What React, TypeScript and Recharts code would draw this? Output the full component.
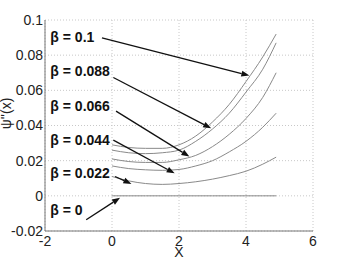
import React from "react";
import {
  LineChart,
  Line,
  XAxis,
  YAxis,
  CartesianGrid,
  ReferenceLine,
  ReferenceDot,
  Label,
} from "recharts";

// x positions along the curves
const xs = [0, 0.5, 1, 1.5, 2, 2.5, 3, 3.5, 4, 4.5, 4.9];

// psi''(x) for each beta
const beta0100 = [0.029, 0.0275, 0.027, 0.027, 0.029, 0.034, 0.042, 0.052, 0.065, 0.079, 0.092];
const beta0088 = [0.026, 0.0245, 0.024, 0.0245, 0.026, 0.031, 0.038, 0.047, 0.059, 0.072, 0.087];
const beta0066 = [0.021, 0.0195, 0.019, 0.019, 0.0205, 0.023, 0.028, 0.035, 0.044, 0.056, 0.07];
const beta0044 = [0.017, 0.0155, 0.0148, 0.0145, 0.015, 0.017, 0.02, 0.025, 0.031, 0.039, 0.047];
const beta0022 = [0.011, 0.0085, 0.007, 0.0065, 0.007, 0.008, 0.0095, 0.0115, 0.014, 0.018, 0.022];
const beta0000 = [0, 0, 0, 0, 0, 0, 0, 0, 0, 0, 0];

const xTicks = [-2, 0, 2, 4, 6];
const yTicks = [-0.02, 0, 0.02, 0.04, 0.06, 0.08, 0.1];

// annotations (data coordinates)
const betaLabels = ["β = 0.1", "β = 0.088", "β = 0.066", "β = 0.044", "β = 0.022", "β = 0"];
const labelX = [-1.84, -1.84, -1.84, -1.84, -1.84, -1.84];
const labelY = [0.0901, 0.0708, 0.051, 0.0317, 0.013, -0.0079];
const arrowFromX = [-0.3, 0.04, 0.12, 0.04, 0.09, -0.77];
const arrowFromY = [0.0899, 0.0673, 0.0482, 0.0317, 0.011, -0.0136];
const arrowToX = [4.1, 2.96, 2.31, 1.87, 0.58, 0.24];
const arrowToY = [0.0684, 0.0384, 0.0223, 0.0128, 0.0068, -0.0011];

const series = [beta0100, beta0088, beta0066, beta0044, beta0022, beta0000];
const keys = ["b0100", "b0088", "b0066", "b0044", "b0022", "b0000"];

const data = xs.map((x, i) => {
  const row: Record<string, number> = { x };
  keys.forEach((k, j) => (row[k] = series[j][i]));
  return row;
});

const FONT = "'Liberation Sans', Arial, sans-serif";

const Arrow = (p: any) => {
  const { x1, y1, x2, y2 } = p;
  const ang = Math.atan2(y2 - y1, x2 - x1);
  const len = 8;
  const w = 3;
  const bx = x2 - len * Math.cos(ang);
  const by = y2 - len * Math.sin(ang);
  const nx = -Math.sin(ang) * w;
  const ny = Math.cos(ang) * w;
  return (
    <g>
      <line x1={x1} y1={y1} x2={bx} y2={by} stroke="#111" strokeWidth={1.3} />
      <polygon points={`${x2},${y2} ${bx + nx},${by + ny} ${bx - nx},${by - ny}`} fill="#111" />
    </g>
  );
};

export default function App() {
  return (
    <div style={{ position: "absolute", left: 0, top: 0, width: 346, height: 260, background: "#fff" }}>
      <LineChart
        width={346}
        height={260}
        data={data}
        margin={{ top: 20, right: 33, bottom: 0, left: 0 }}
      >
        <CartesianGrid stroke="#c8c8c8" strokeDasharray="1 2" />
        <XAxis
          dataKey="x"
          type="number"
          domain={[-2, 6]}
          ticks={xTicks}
          height={29}
          tickLine={false}
          tickSize={0}
          tickMargin={5}
          stroke="#777"
          tick={{ fill: "#222", fontSize: 14, fontFamily: FONT }}
        >
          <Label
            value="X"
            position="insideBottom"
            offset={3}
            style={{ fill: "#222", fontSize: 14, fontFamily: FONT }}
          />
        </XAxis>
        <XAxis xAxisId="top" orientation="top" dataKey="x" type="number" domain={[-2, 6]} height={0} tick={false} tickLine={false} stroke="#999" />
        <YAxis
          type="number"
          domain={[-0.02, 0.1]}
          ticks={yTicks}
          width={45}
          tickLine={false}
          tickSize={0}
          tickMargin={2}
          stroke="#777"
          tick={{ fill: "#222", fontSize: 14, fontFamily: FONT }}
        >
          <Label
            content={({ viewBox }: any) => {
              const cy = viewBox.y + viewBox.height / 2 - 12;
              return (
                <text
                  x={11}
                  y={cy}
                  transform={`rotate(-90 11 ${cy})`}
                  textAnchor="middle"
                  fill="#222"
                  fontSize={14}
                  fontFamily={FONT}
                >
                  ψ''(x)
                </text>
              );
            }}
          />
        </YAxis>
        <YAxis yAxisId="right" orientation="right" type="number" domain={[-0.02, 0.1]} width={0} tick={false} tickLine={false} stroke="#999" />
        {keys.map((k) => (
          <Line
            key={k}
            type="monotone"
            dataKey={k}
            stroke="#8a8a8a"
            strokeWidth={1}
            dot={false}
            isAnimationActive={false}
          />
        ))}
        {betaLabels.map((_, i) => (
          <ReferenceLine
            key={"a" + i}
            segment={[
              { x: arrowFromX[i], y: arrowFromY[i] },
              { x: arrowToX[i], y: arrowToY[i] },
            ]}
            ifOverflow="visible"
            shape={Arrow}
          />
        ))}
        {betaLabels.map((t, i) => (
          <ReferenceDot
            key={"l" + i}
            x={labelX[i]}
            y={labelY[i]}
            r={0}
            ifOverflow="visible"
            shape={(p: any) => (
              <text
                x={p.cx}
                y={p.cy}
                dominantBaseline="central"
                fontSize={14}
                fontWeight="bold"
                fontFamily={FONT}
                fill="#111"
              >
                {t}
              </text>
            )}
          />
        ))}
      </LineChart>
    </div>
  );
}
